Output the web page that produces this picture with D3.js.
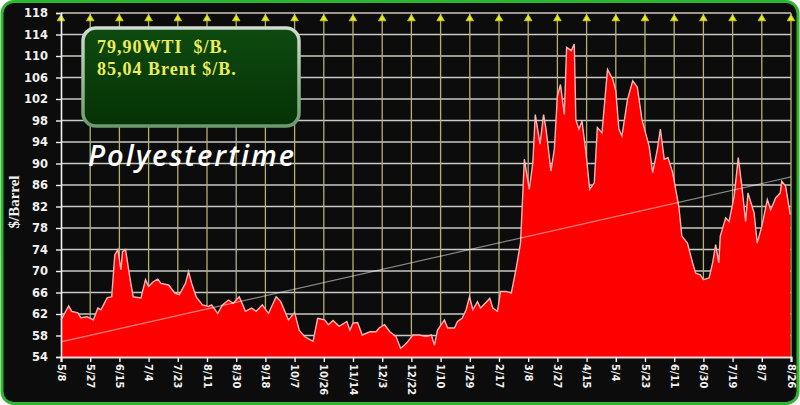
<!DOCTYPE html>
<html><head><meta charset="utf-8">
<script src="https://cdn.jsdelivr.net/npm/d3@7/dist/d3.min.js"></script>
<style>html,body{margin:0;padding:0;background:#fff;}svg{display:block;}</style>
</head><body>
<script>
// ---- data ----
const tickLabels = ["5/8","5/27","6/15","7/4","7/23","8/11","8/30","9/18","10/7","10/26","11/14","12/3","12/22","1/10","1/29","2/17","3/8","3/27","4/15","5/4","5/23","6/11","6/30","7/19","8/7","8/26"];
const tickDays = tickLabels.map((d,i)=>i*19);   // days since 5/8
const days = [0,5,7,11,13,17,21,24,26,30,33,35,37,39,40,42,45,47,52,55,57,60,63,65,70,74,77,81,83,85,88,92,96,98,102,105,109,112,116,120,124,127,131,135,140,143,148,152,155,158.5,164,167,171.5,174,177,181,186,188,190,193,196,201,205,207,210.5,214,218,221,224.6,229,233,237.6,241,243,245,249.5,251.6,256,258,261,263.6,265.8,268,271,273,279,281,284,286,289.6,293,296,299,301.5,304.7,307,308.6,311.7,314,315.6,318.8,321,323,325,327.5,329,332,334,335,337,339,341.6,344,347,349,352,355.6,359,361,363,365,368.6,372,375,378,382.7,385,388,390,392.5,395,398,402,404,407.6,411,413,416,418,421.7,424,426,428,429,432.5,434.7,438,440.7,443,445.5,447,451,453,456,459.6,461.8,465,468,469,471.5,474.5];
const values = [60.9,63.5,62.5,62.2,61.3,61.5,60.9,63.1,62.8,65,65.2,73,74,70.2,73.6,74,68.4,65.2,65,68.4,67.1,68,68.5,67.7,67.4,65.9,65.6,67.7,69.9,67.7,65.2,63.7,63.4,63.7,62.1,63.7,64.6,64,65.2,62.5,63.1,62.5,63.7,62.1,65.2,64.3,60.9,62.3,59,57.8,56.9,61.2,60.9,60,60.8,59.7,60.6,59,60.3,60.4,58.1,58.7,58.7,59.4,60,58.7,57.8,55.6,56.5,58.1,58.1,57.8,58.1,56.2,59,60.9,59.4,59.4,60.6,61.2,62.8,65.2,62.8,64.3,63.1,64.9,63.1,62.5,66.2,66.2,65.9,70.2,75.2,90.8,85.2,90.1,99.1,93.6,99.1,96.4,88.6,92.6,102.6,104.7,99.1,111.6,111,112.2,98.2,96.4,97.9,92,85.2,86.4,96.7,95.7,107.5,105.7,103.5,96.4,95.1,101.9,105.4,104.2,98.2,93.2,88.3,92.6,96.4,90.8,91.1,88.3,82,76.5,75.2,71.5,69.6,69.3,68.4,68.7,71.5,74.9,71.5,76.5,79.9,79.2,83.9,91.1,85.8,79.2,84.5,80.8,75.2,78.3,83.3,81.4,83.6,84.5,86.7,85.8,80.5];
const yTicks = [54,58,62,66,70,74,78,82,86,90,94,98,102,106,110,114,118];
const trendStart = 56.8, trendEnd = 87.5;
const legendLines = ["79,90WTI  $/B.","85,04 Brent $/B."];
const watermark = "Polyestertime";
const yTitle = "$/Barrel";

// ---- drawing ----
const W=800,H=405;
const svg=d3.select("body").append("svg").attr("width",W).attr("height",H);
const defs=svg.append("defs");
const g1=defs.append("linearGradient").attr("id","boxFill").attr("x1",0).attr("y1",0).attr("x2",0).attr("y2",1);
g1.append("stop").attr("offset","0%").attr("stop-color","#0e4a10");
g1.append("stop").attr("offset","100%").attr("stop-color","#053205");
const g2=defs.append("linearGradient").attr("id","boxStroke").attr("x1",0).attr("y1",0).attr("x2",0).attr("y2",1);
g2.append("stop").attr("offset","0%").attr("stop-color","#d0dcd0");
g2.append("stop").attr("offset","100%").attr("stop-color","#6c9a6c");

svg.append("rect").attr("x",2).attr("y",1.5).attr("width",W-4).attr("height",H-3).attr("rx",12)
  .attr("fill","#0c0c0c").attr("stroke","#2fb52f").attr("stroke-width",3);

const x=d3.scaleLinear().domain([0,475]).range([61,791]);
const y=d3.scaleLinear().domain([54,118]).range([357,13]);

// grid
svg.append("g").selectAll("line").data(yTicks).join("line")
  .attr("x1",61).attr("x2",791).attr("y1",d=>y(d)).attr("y2",d=>y(d))
  .attr("stroke","#c9c9c2").attr("stroke-width",1.6);
svg.append("g").selectAll("line").data(tickDays.slice(1)).join("line")
  .attr("x1",d=>x(d)).attr("x2",d=>x(d)).attr("y1",y(118)).attr("y2",y(54))
  .attr("stroke","#b4b070").attr("stroke-width",1.3);

// triangles at top
svg.append("g").selectAll("path").data(tickDays).join("path")
  .attr("transform",d=>`translate(${x(d)},${y(118)+5})`)
  .attr("d","M0,-3.5L3.8,2.8L-3.8,2.8Z").attr("fill","#e8e82a").attr("stroke","#c8c820").attr("stroke-width",0.8).attr("stroke-linejoin","round");

// area
const pts=days.map((d,i)=>[d,values[i]]);
const area=d3.area().x(d=>x(d[0])).y0(y(54)).y1(d=>y(d[1]));
const line=d3.line().x(d=>x(d[0])).y(d=>y(d[1]));
svg.append("path").datum(pts).attr("d",area).attr("fill","#fe0000");
svg.append("path").datum(pts).attr("d",line).attr("fill","none").attr("stroke","#ffb4b4").attr("stroke-width",1.4);

// trend line
svg.append("line").attr("x1",x(0)).attr("y1",y(trendStart)).attr("x2",x(475)).attr("y2",y(trendEnd))
  .attr("stroke","#ffffff").attr("stroke-opacity",0.5).attr("stroke-width",1.2);

// axes
const yAxis=d3.axisLeft(y).tickValues(yTicks).tickSize(5).tickPadding(8);
const ya=svg.append("g").attr("transform","translate(61,0)").call(yAxis);
ya.select(".domain").attr("stroke","#f0f0f0").attr("stroke-width",1.6);
ya.selectAll(".tick line").attr("stroke","#f0f0f0").attr("stroke-width",1.4);
ya.selectAll("text").attr("fill","#f2f2f2").attr("font-family","DejaVu Sans").attr("font-weight","bold").attr("font-size","11.5px");

const xAxis=d3.axisBottom(x).tickValues(tickDays).tickFormat((d,i)=>tickLabels[i]).tickSize(5);
const xa=svg.append("g").attr("transform",`translate(0,${y(54)})`).call(xAxis);
xa.select(".domain").attr("stroke","#f4d8d8").attr("stroke-width",2.2);
xa.selectAll(".tick line").attr("stroke","#f0f0f0").attr("stroke-width",1.4);
xa.selectAll("text").attr("fill","#f2f2f2").attr("font-family","'DejaVu Sans Condensed', 'DejaVu Sans'").attr("font-weight","bold").attr("font-size","11px")
  .attr("transform","rotate(90)").attr("text-anchor","start").attr("dy","0.35em").attr("x",7).attr("y",0);

// y title
svg.append("text").attr("transform","translate(19,202) rotate(-90)").attr("text-anchor","middle")
  .attr("fill","#f2f2f2").attr("font-family","Liberation Serif").attr("font-weight","bold").attr("font-size","15px").text(yTitle);

// legend box
svg.append("rect").attr("x",83).attr("y",28).attr("width",216).attr("height",98).attr("rx",13)
  .attr("fill","url(#boxFill)").attr("stroke","url(#boxStroke)").attr("stroke-width",3.5);
svg.append("g").selectAll("text").data(legendLines).join("text")
  .attr("x",97).attr("y",(d,i)=>53+i*22).attr("fill","#eded5c").attr("font-family","Liberation Serif")
  .attr("font-weight","bold").attr("font-size","18px").attr("letter-spacing","1px").style("white-space","pre").text(d=>d);

// watermark
svg.append("text").attr("x",88).attr("y",166).attr("fill","#ffffff").attr("font-family","Open Sans")
  .attr("font-style","italic").attr("font-weight","600").attr("font-size","29px").attr("letter-spacing","2px").text(watermark);
</script>
</body></html>
